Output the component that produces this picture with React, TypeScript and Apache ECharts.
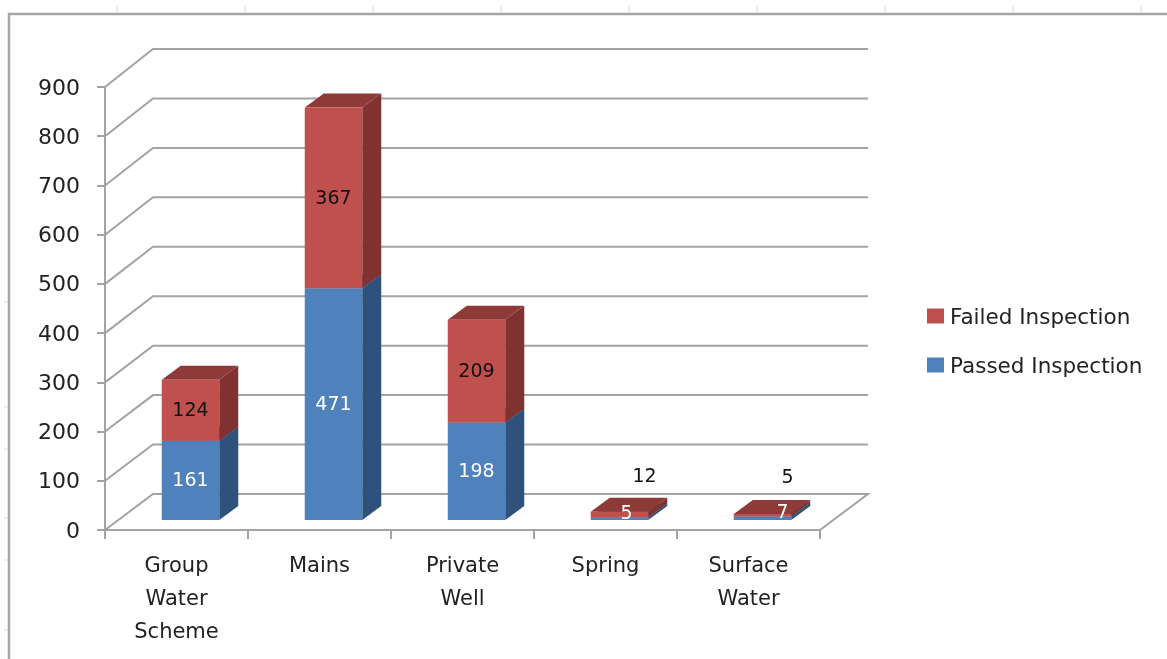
import React, { useEffect, useRef } from "react";
import * as echarts from "echarts";

const categories = ["Group\nWater\nScheme", "Mains", "Private\nWell", "Spring", "Surface\nWater"];
const passed = [161, 471, 198, 5, 7];
const failed = [124, 367, 209, 12, 5];
const yTicks = [0, 100, 200, 300, 400, 500, 600, 700, 800, 900];
const FONT = "'DejaVu Sans'";

// label nudges (px) for the two thin bars whose labels were moved by hand
const failedLabelShift: Record<number, [number, number]> = { 3: [25, -40], 4: [25, -39] };
const passedLabelShift: Record<number, [number, number]> = { 3: [7, -7], 4: [20, -7] };

const WALL_DX = 48, WALL_DY0 = -36, WALL_DY_GROW = -2;
const BAR_DX = 14, BAR_DY = -10, SIDE_DX = 19, SIDE_DY = -14, BAR_W = 57.5;

function barSeries(name: string, color: string, side: string, top: string, base: number[], vals: number[], labelColor: string, shift: Record<number, [number, number]>) {
  return {
    name,
    type: "custom",
    coordinateSystem: "cartesian2d",
    itemStyle: { color },
    silent: true,
    z: 5,
    data: vals.map((v, i) => [i, base[i], base[i] + v, v]),
    encode: { x: 0, y: [1, 2] },
    renderItem: (_p: any, api: any) => {
      const i = api.value(0);
      const b = api.coord([i, api.value(1)]);
      const t = api.coord([i, api.value(2)]);
      const x0 = b[0] + BAR_DX - BAR_W / 2, x1 = x0 + BAR_W;
      const y0 = b[1] + BAR_DY, y1 = t[1] + BAR_DY;
      const s = shift[i] || [0, -1];
      return {
        type: "group",
        children: [
          { type: "polygon", shape: { points: [[x1, y0], [x1 + SIDE_DX, y0 + SIDE_DY], [x1 + SIDE_DX, y1 + SIDE_DY], [x1, y1]] }, style: { fill: side } },
          { type: "polygon", shape: { points: [[x0, y1], [x1, y1], [x1 + SIDE_DX, y1 + SIDE_DY], [x0 + SIDE_DX, y1 + SIDE_DY]] }, style: { fill: top } },
          { type: "rect", shape: { x: x0, y: y1, width: BAR_W, height: y0 - y1 }, style: { fill: color } },
          {
            type: "text",
            z2: 10,
            style: {
              x: (x0 + x1) / 2 + s[0],
              y: (y0 + y1) / 2 + s[1],
              text: String(api.value(3)),
              fill: labelColor,
              font: `19px ${FONT}`,
              align: "center",
              verticalAlign: "middle",
            },
          },
        ],
      };
    },
  };
}

export default function App() {
  const ref = useRef<HTMLDivElement>(null);
  useEffect(() => {
    document.body.style.margin = "0";
    const chart = echarts.init(ref.current!, undefined, { renderer: "svg" });
    const base = passed.map(() => 0);
    const frame = "#a6a6a6";
    const grey = "#a3a3a3";
    const topTicks = [117, 245, 373, 501, 629, 757, 885, 1013, 1141];
    const leftTicks = [302, 407, 449, 518, 560, 630];
    chart.setOption({
      animation: false,
      backgroundColor: "#fff",
      grid: { left: 105, top: 87, width: 715, height: 443, containLabel: false },
      legend: {
        orient: "vertical",
        left: 922,
        top: 300,
        itemWidth: 17,
        itemHeight: 15,
        itemGap: 27,
        icon: "rect",
        data: ["Failed Inspection", "Passed Inspection"],
        textStyle: { fontFamily: FONT, fontSize: 21.5, color: "#222", padding: [0, 0, 0, 1] },
        selectedMode: false,
      },
      xAxis: {
        type: "category",
        data: categories,
        axisLine: { show: true, lineStyle: { color: grey, width: 2 } },
        axisTick: { show: true, length: 9, lineStyle: { color: grey, width: 2 } },
        axisLabel: { fontFamily: FONT, fontSize: 21, color: "#222", margin: 18, lineHeight: 33, interval: 0 },
      },
      yAxis: {
        type: "value",
        min: 0,
        max: 900,
        interval: 100,
        axisLine: { show: true, lineStyle: { color: grey, width: 2 } },
        axisTick: { show: true, length: 8, lineStyle: { color: grey, width: 2 } },
        splitLine: { show: false },
        axisLabel: { fontFamily: FONT, fontSize: 22, color: "#222", margin: 25, padding: [4, 0, 0, 0] },
      },
      series: [
        {
          type: "custom",
          name: "walls",
          coordinateSystem: "cartesian2d",
          silent: true,
          z: 1,
          data: yTicks.map((v) => [0, v]),
          encode: { x: 0, y: 1 },
          renderItem: (_p: any, api: any) => {
            const v = api.value(1);
            const p = api.coord([0, v]);
            const left = 105;
            const right = left + api.size([1, 0])[0] * categories.length;
            const dy = WALL_DY0 + (WALL_DY_GROW * v) / 900;
            const pts: number[][] = [[left, p[1]], [left + WALL_DX, p[1] + dy], [right + WALL_DX, p[1] + dy]];
            if (v === 0) pts.push([right, p[1]]);
            return { type: "polyline", shape: { points: pts }, style: { stroke: grey, lineWidth: 2, fill: "none" } };
          },
        },
        barSeries("Passed Inspection", "#4f81bd", "#2f527c", "#3c6491", base, passed, "#ffffff", passedLabelShift),
        barSeries("Failed Inspection", "#c0504d", "#7f322f", "#8e3a38", passed, failed, "#111111", failedLabelShift),
      ],
      graphic: [
        { type: "polyline", silent: true, shape: { points: [[9, 659], [9, 14], [1167, 14]] }, style: { stroke: frame, lineWidth: 2.5, fill: "none" } },
        ...topTicks.map((x) => ({ type: "line", silent: true, shape: { x1: x, y1: 6, x2: x, y2: 13 }, style: { stroke: "#d9d9d9", lineWidth: 1 } })),
        ...leftTicks.map((y) => ({ type: "line", silent: true, shape: { x1: 4, y1: y, x2: 8, y2: y }, style: { stroke: "#d9d9d9", lineWidth: 1 } })),
      ],
    });
    return () => chart.dispose();
  }, []);
  return <div ref={ref} style={{ position: "absolute", left: 0, top: 0, width: 1167, height: 659, filter: "blur(0.4px)" }} />;
}
